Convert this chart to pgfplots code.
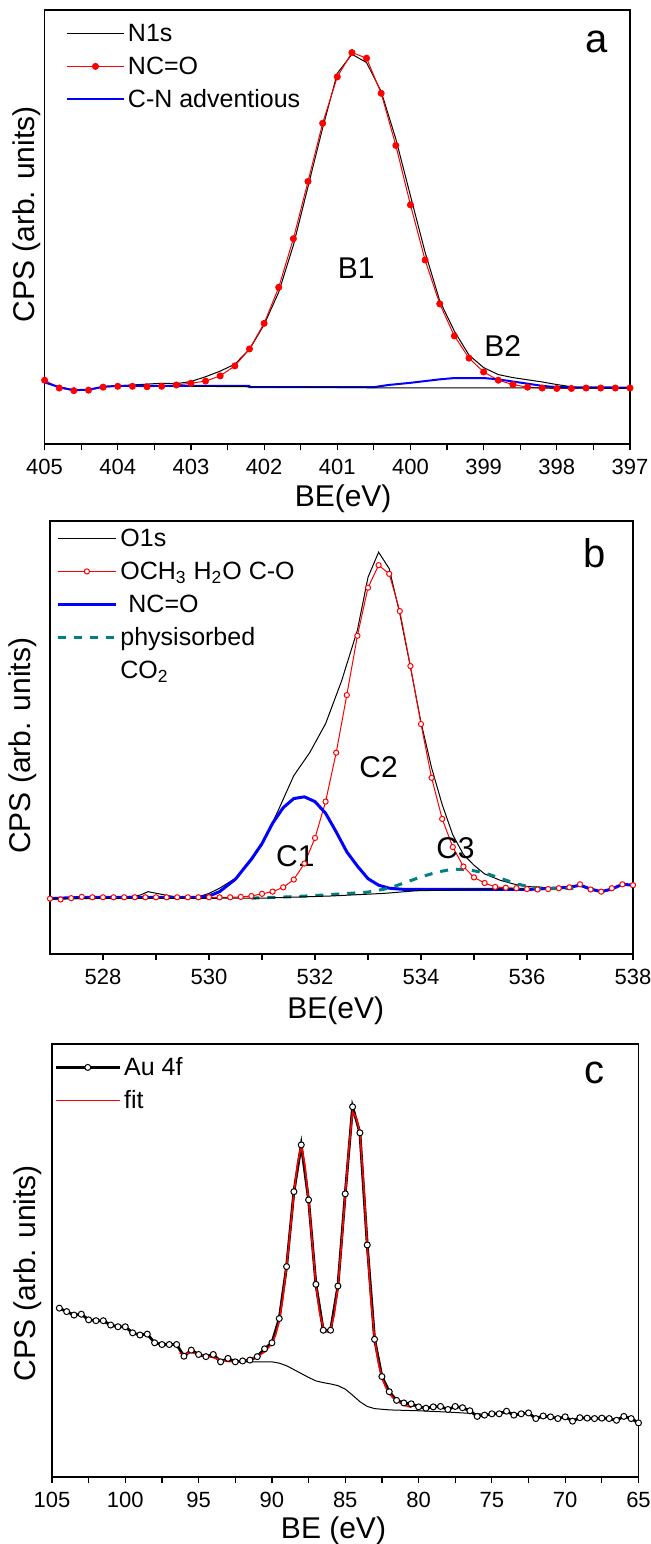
\documentclass[border=0pt]{standalone}
\usepackage{fontspec}
\setmainfont{Liberation Sans}
\usepackage{pgfplots}
\pgfplotsset{compat=1.18}
\definecolor{tealdash}{RGB}{0,128,128}

\pgfplotsset{
  xps/.style={
    scale only axis,
    width=292.7pt, height=217pt,
    ymin=0, ymax=100,
    ytick=\empty,
    axis line style={line width=0.7pt},
    xtick pos=bottom,
    tick align=outside,
    minor x tick num=1,
    major tick length=3pt, minor tick length=3pt,
    every tick/.style={black, line width=0.6pt},
    /pgf/number format/assume math mode=true,
    ticklabel style={font=\fontsize{11}{13}\selectfont, yshift=-1pt},
    label style={font=\fontsize{15}{17}\selectfont},
    ylabel style={anchor=south, inner sep=0pt},
    xlabel style={anchor=base},
    legend cell align=left,
    legend style={draw=none, fill=none, at={(axis description cs:0,1)},
      anchor=north west, inner sep=0pt, row sep=2.5pt,
      font=\fontsize{12.5}{14}\selectfont,
      nodes={inner sep=1.5pt, text height=9.5pt}},
  },
}
\tikzset{
  lbl/.style={font=\fontsize{15}{17}\selectfont},
  pnl/.style={font=\fontsize{20}{22}\selectfont},
}

\begin{document}
\begin{tikzpicture}
\path[use as bounding box] (0,0) rectangle (325.5pt,-772pt);

% ---------------- panel a : N1s
\begin{axis}[xps,
  at={(22.3pt,-5pt)}, anchor=north west,
  x dir=reverse, xmin=397, xmax=405,
  xtick={397,398,...,405},
  xlabel={BE(eV)}, ylabel={CPS (arb. units)},
  xlabel style={at={(axis description cs:0.51,-0.1447)}},
  ylabel style={at={(axis description cs:-0.0051,0.529)}},
  legend style={xshift=10.5pt, yshift=-4.5pt},
  legend image code/.code={\draw[mark repeat=2,mark phase=2,#1] plot coordinates {(0pt,0pt) (14.25pt,0pt) (28.5pt,0pt)};},
]
\addplot[black, line width=0.5pt] coordinates {
(405.0,14.2) (404.8,13.1) (404.6,12.4) (404.4,12.5) (404.2,13.2) (404.0,13.4)
(403.8,13.6) (403.6,13.8) (403.4,14.0) (403.2,13.9) (403.0,14.4) (402.8,15.5)
(402.6,16.8) (402.4,18.4) (402.2,21.8) (402.0,27.5) (401.8,35.0) (401.6,45.8)
(401.4,59.3) (401.2,72.8) (401.0,85.4) (400.8,89.8) (400.6,87.9) (400.4,81.2)
(400.2,70.3) (400.0,57.2) (399.8,44.2) (399.6,33.0) (399.4,26.0) (399.2,20.5)
(399.0,17.6) (398.8,16.0) (398.6,15.3) (398.4,14.8) (398.2,14.3) (398.0,13.7)
(397.8,13.2) (397.6,12.8) (397.4,12.8) (397.2,12.9) (397.0,12.9)};
\addlegendentry{N1s}
\addplot[red, line width=0.5pt, mark=*, mark size=1.5pt] coordinates {
(405.0,14.7) (404.8,12.9) (404.6,12.3) (404.4,12.4) (404.2,13.1) (404.0,13.3)
(403.8,13.3) (403.6,13.2) (403.4,13.3) (403.2,13.6) (403.0,14.0) (402.8,14.5)
(402.6,15.7) (402.4,18.0) (402.2,21.9) (402.0,27.8) (401.8,36.1) (401.6,47.3)
(401.4,60.5) (401.2,73.9) (401.0,84.6) (400.8,90.2) (400.6,88.9) (400.4,80.8)
(400.2,68.8) (400.0,55.1) (399.8,42.4) (399.6,32.3) (399.4,24.9) (399.2,19.8)
(399.0,16.6) (398.8,14.7) (398.6,13.7) (398.4,13.1) (398.2,12.9) (398.0,12.8)
(397.8,12.8) (397.6,12.9) (397.4,12.9) (397.2,12.9) (397.0,12.9)};
\addlegendentry{NC=O}
\addplot[blue, line width=1pt] coordinates {
(405.0,14.2) (404.8,13.1) (404.6,12.4) (404.4,12.5) (404.2,13.2) (404.0,13.4)
(403.0,13.4) (402.2,13.4) (402.2,13.1) (400.5,13.1) (400.3,13.6) (400.0,14.1)
(399.8,14.5) (399.6,14.9) (399.4,15.2) (399.0,15.2) (398.8,14.9) (398.6,14.4)
(398.4,13.9) (398.2,13.4) (398.0,13.1) (397.0,13.0)};
\addlegendentry{C-N adventious}
\addplot[black, line width=0.5pt, forget plot] coordinates {
(403.0,13.3) (400.5,12.95) (397.0,12.9)};
\node[lbl] at (axis cs:400.74,40.5) {B1};
\node[lbl] at (axis cs:398.74,22.5) {B2};
\node[pnl] at (axis cs:397.46,92.7) {a};
\end{axis}

% ---------------- panel b : O1s
\begin{axis}[xps,
  at={(25pt,-260.5pt)}, anchor=north west,
  width=291.5pt, height=216.5pt,
  xmin=527, xmax=538,
  xtick={528,530,...,538},
  xlabel={BE(eV)}, ylabel={CPS (arb. units)},
  xlabel style={at={(axis description cs:0.49,-0.1478)}},
  ylabel style={at={(axis description cs:-0.0223,0.481)}},
  legend style={xshift=3pt, yshift=-1.5pt},
  legend image code/.code={\draw[mark repeat=2,mark phase=2,#1] plot coordinates {(0pt,0pt) (14.5pt,0pt) (29pt,0pt)};},
]
\addplot[black, line width=0.5pt] coordinates {
(527.0,12.8) (527.4,13.0) (527.8,13.1) (528.4,13.1) (528.7,13.6) (528.85,14.4)
(529.1,13.8) (529.4,13.1) (529.8,13.2) (530.0,14.0) (530.2,15.2) (530.5,17.5)
(530.8,21.6) (531.0,25.2) (531.3,33.0) (531.6,41.2) (531.9,46.5) (532.2,53.2)
(532.5,63.0) (532.8,74.8) (533.0,87.0) (533.2,92.8) (533.4,89.0) (533.6,78.6)
(533.8,66.3) (534.0,53.5) (534.2,43.0) (534.4,34.5) (534.6,27.5) (534.8,23.0)
(535.0,20.5) (535.2,18.5) (535.5,17.0) (535.8,16.0) (536.0,15.6) (536.5,15.2)
(536.8,15.4) (537.0,15.9) (537.2,15.0) (537.4,14.4) (537.6,15.0) (537.8,16.1)
(538.0,15.9)};
\addlegendentry{O1s}
\addplot[red, line width=0.5pt, mark=*, mark size=1.3pt,
  mark options={fill=white, draw=red, line width=0.5pt}] coordinates {
(527.0,12.8) (527.2,12.6) (527.4,12.9) (527.6,13.2) (527.8,13.1) (528.0,13.1)
(528.2,13.1) (528.4,13.1) (528.6,13.1) (528.8,13.1) (529.0,13.1) (529.2,13.1)
(529.4,13.1) (529.6,13.1) (529.8,13.1) (530.0,13.1) (530.2,13.1) (530.4,13.1)
(530.6,13.2) (530.8,13.4) (531.0,13.9) (531.2,14.4) (531.4,15.4) (531.6,17.2)
(531.8,20.9) (532.0,26.8) (532.2,35.2) (532.4,46.5) (532.6,59.8) (532.8,73.5)
(533.0,84.6) (533.2,89.8) (533.4,87.8) (533.6,79.2) (533.8,66.5) (534.0,53.1)
(534.2,40.7) (534.4,31.2) (534.6,24.7) (534.8,20.2) (535.0,17.7) (535.2,16.4)
(535.4,15.5) (535.6,15.3) (535.8,15.2) (536.0,15.0) (536.2,14.9) (536.4,15.0)
(536.6,15.2) (536.8,15.4) (537.0,16.1) (537.2,14.9) (537.4,14.4) (537.6,15.2)
(537.8,16.1) (538.0,15.9)};
\addlegendentry{OCH\textsubscript{3} H\textsubscript{2}O C-O}
\addplot[blue, line width=1.5pt] coordinates {
(527.0,12.8) (527.4,13.0) (527.8,13.1) (529.8,13.1) (530.0,13.4) (530.2,14.4)
(530.5,17.3) (530.8,21.9) (531.0,25.5) (531.2,30.2) (531.4,33.8) (531.6,35.9)
(531.8,36.3) (532.0,35.2) (532.2,32.5) (532.4,28.2) (532.6,23.6) (532.8,20.3)
(533.0,17.4) (533.2,15.9) (533.4,15.2) (533.7,14.9) (536.0,14.9) (536.5,15.2)
(536.8,15.4) (537.0,15.9) (537.2,15.0) (537.4,14.4) (537.6,15.0) (537.8,16.1)
(538.0,15.9)};
\addlegendentry{\hspace{4pt}NC=O}
\addplot[tealdash, line width=1.5pt, dash pattern=on 4pt off 4pt] coordinates {
(530.8,12.9) (531.5,13.2) (532.0,13.5) (532.5,13.9) (533.0,14.3) (533.4,15.2)
(533.7,16.5) (534.0,17.8) (534.3,18.9) (534.6,19.6) (534.9,19.5) (535.2,18.7)
(535.5,17.5) (535.8,16.2) (536.1,15.4) (536.5,15.1) (537.0,15.2)};
\addlegendentry{physisorbed}
\addlegendimage{empty legend}
\addlegendentry{CO\textsubscript{2}}
\addplot[black, line width=0.5pt, forget plot] coordinates {
(527.0,12.8) (531.0,12.9) (532.3,13.4) (533.3,14.0) (533.9,14.6) (535.0,14.9)
(536.0,15.0)};
\node[lbl] at (axis cs:531.63,22.5) {C1};
\node[lbl] at (axis cs:533.2,43.2) {C2};
\node[lbl] at (axis cs:534.65,24.4) {C3};
\node[pnl] at (axis cs:537.28,92.5) {b};
\end{axis}

% ---------------- panel c : Au 4f
\begin{axis}[xps,
  at={(26pt,-522pt)}, anchor=north west,
  width=293.25pt, height=216.5pt,
  x dir=reverse, xmin=65, xmax=105,
  xtick={65,70,...,105},
  xlabel={BE (eV)}, ylabel={CPS (arb. units)},
  xlabel style={at={(axis description cs:0.48,-0.1409)}},
  ylabel style={at={(axis description cs:-0.017,0.471)}},
  legend style={xshift=1pt, yshift=-4.5pt},
  legend image code/.code={\draw[mark repeat=2,mark phase=2,#1] plot coordinates {(0pt,0pt) (16pt,0pt) (32pt,0pt)};},
]
\addplot[black, line width=1.4pt, mark=*, mark size=1.5pt,
  mark options={fill=white, draw=black, line width=0.5pt}] coordinates {
(104.5,39.0) (104.0,38.2) (103.5,37.4) (103.0,37.6) (102.5,36.3) (102.0,36.1)
(101.5,36.1) (101.0,35.1) (100.5,34.7) (100.0,34.7) (99.5,33.3) (99.0,32.8)
(98.5,33.0) (98.0,31.0) (97.5,30.6) (97.0,30.6) (96.5,30.6) (96.0,27.9)
(95.5,29.3) (95.0,28.3) (94.5,27.8) (94.0,28.3) (93.5,26.6) (93.0,27.4)
(92.5,26.6) (92.0,26.8) (91.5,27.0) (91.0,27.8) (90.5,29.6) (90.0,31.0)
(89.5,36.6) (89.0,48.6) (88.5,65.9) (88.0,76.7) (87.5,64.0) (87.0,44.5)
(86.5,33.9) (86.0,33.9) (85.5,44.1) (85.0,65.4) (84.5,85.5) (84.0,79.5)
(83.5,53.6) (83.0,31.8) (82.5,23.2) (82.0,19.7) (81.5,17.7) (81.0,17.1)
(80.5,16.9) (80.0,16.2) (79.5,15.9) (79.0,16.2) (78.5,16.3) (78.0,15.6)
(77.5,16.3) (77.0,16.0) (76.5,15.3) (76.0,14.0) (75.5,14.3) (75.0,14.6)
(74.5,14.6) (74.0,15.2) (73.5,14.3) (73.0,14.6) (72.5,14.8) (72.0,13.5)
(71.5,14.1) (71.0,13.9) (70.5,13.5) (70.0,13.9) (69.5,12.9) (69.0,13.7)
(68.5,13.6) (68.0,13.5) (67.5,13.6) (67.0,13.5) (66.5,13.1) (66.0,14.0)
(65.5,13.5) (65.0,12.5)};
\addlegendentry{Au 4f}
\addplot[red, line width=0.8pt] coordinates {
(96.3,28.6) (96.0,28.4) (95.5,28.8) (95.0,28.3) (94.5,27.9) (94.0,27.6)
(93.5,27.0) (93.0,26.7) (92.5,26.6) (92.0,26.8) (91.5,27.1) (91.0,27.8)
(90.5,28.9) (90.0,30.8) (89.75,32.8) (89.5,36.0) (89.25,41.5) (89.0,48.5)
(88.75,57.0) (88.5,65.5) (88.25,72.5) (88.0,76.5) (87.75,72.0) (87.5,64.0)
(87.25,54.0) (87.0,44.5) (86.75,38.0) (86.5,34.5) (86.25,33.5) (86.0,34.2)
(85.75,37.5) (85.5,44.0) (85.25,54.0) (85.0,65.0) (84.75,76.0) (84.5,84.3)
(84.25,83.0) (84.0,79.5) (83.75,68.0) (83.5,53.5) (83.25,41.0) (83.0,32.0)
(82.75,26.5) (82.5,23.0) (82.25,20.8) (82.0,19.3) (81.75,18.3) (81.5,17.6)
(81.0,16.6) (80.5,16.1)};
\addlegendentry{fit}
\addplot[black, line width=0.5pt, forget plot] coordinates {
(93.0,26.9) (92.0,26.6) (90.0,26.6) (89.5,26.3) (89.0,25.7) (88.5,24.8)
(88.0,23.9) (87.5,23.0) (87.0,22.2) (86.5,21.8) (86.0,21.5) (85.5,21.1)
(85.0,20.3) (84.5,18.9) (84.0,17.4) (83.5,16.3) (83.0,15.8) (82.0,15.5)
(80.0,15.3) (78.0,15.0) (76.0,14.6) (75.0,14.4)};
\node[pnl] at (axis cs:67.98,93.4) {c};
\end{axis}
\end{tikzpicture}
\end{document}
